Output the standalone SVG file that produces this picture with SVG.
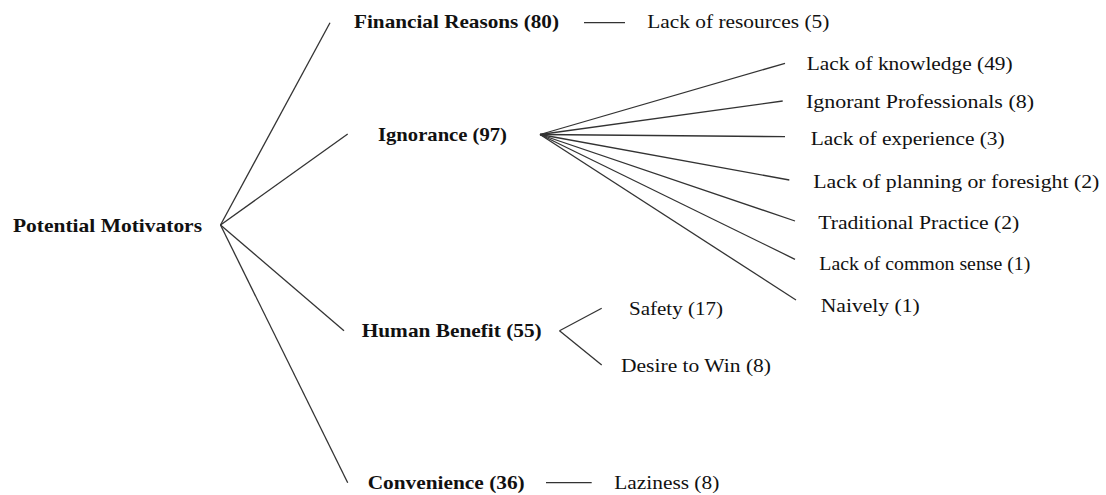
<svg xmlns="http://www.w3.org/2000/svg" width="1106" height="495" viewBox="0 0 1106 495">
<style>
text{font-family:"Liberation Serif","Times New Roman",serif;font-size:19px;fill:#111;}
.b{font-weight:bold;}
#connectors line{stroke:#333;stroke-width:1.3;}
</style>
<rect width="1106" height="495" fill="#fff"/>
<g id="connectors">
<line x1="220.5" y1="225" x2="330" y2="22.7"/>
<line x1="220.5" y1="225" x2="347.7" y2="134"/>
<line x1="220.5" y1="225" x2="344" y2="330.7"/>
<line x1="220.5" y1="225" x2="347.7" y2="482.7"/>
<line x1="584" y1="22.7" x2="625" y2="22.7"/>
<line x1="540" y1="134.5" x2="785" y2="63.3"/>
<line x1="540" y1="134.5" x2="782.7" y2="101"/>
<line x1="540" y1="134.5" x2="785" y2="136.7"/>
<line x1="540" y1="134.5" x2="789.3" y2="180"/>
<line x1="540" y1="134.5" x2="795" y2="221"/>
<line x1="540" y1="134.5" x2="795" y2="259.3"/>
<line x1="540" y1="134.5" x2="796" y2="300"/>
<line x1="559.5" y1="330.7" x2="601.7" y2="308.3"/>
<line x1="559.5" y1="330.7" x2="601.7" y2="365"/>
<line x1="546" y1="482.7" x2="591.7" y2="482.7"/>
</g>
<g id="root"><text class="b" x="13" y="231.7" textLength="189" lengthAdjust="spacingAndGlyphs">Potential Motivators</text></g>
<g id="financial"><text class="b" x="354" y="28" textLength="205" lengthAdjust="spacingAndGlyphs">Financial Reasons (80)</text></g>
<g id="resources"><text x="647.3" y="28" textLength="182" lengthAdjust="spacingAndGlyphs">Lack of resources (5)</text></g>
<g id="ignorance"><text class="b" x="378" y="141" textLength="129" lengthAdjust="spacingAndGlyphs">Ignorance (97)</text></g>
<g id="knowledge"><text x="806.7" y="69.5" textLength="206" lengthAdjust="spacingAndGlyphs">Lack of knowledge (49)</text></g>
<g id="professionals"><text x="806" y="107.5" textLength="228" lengthAdjust="spacingAndGlyphs">Ignorant Professionals (8)</text></g>
<g id="experience"><text x="810.7" y="145.3" textLength="194" lengthAdjust="spacingAndGlyphs">Lack of experience (3)</text></g>
<g id="planning"><text x="813.3" y="188" textLength="286" lengthAdjust="spacingAndGlyphs">Lack of planning or foresight (2)</text></g>
<g id="traditional"><text x="818.3" y="228.6" textLength="201" lengthAdjust="spacingAndGlyphs">Traditional Practice (2)</text></g>
<g id="commonsense"><text x="819.3" y="270.3" textLength="211" lengthAdjust="spacingAndGlyphs">Lack of common sense (1)</text></g>
<g id="naively"><text x="820.7" y="312" textLength="99" lengthAdjust="spacingAndGlyphs">Naively (1)</text></g>
<g id="human"><text class="b" x="361.7" y="337" textLength="180" lengthAdjust="spacingAndGlyphs">Human Benefit (55)</text></g>
<g id="safety"><text x="629" y="315.3" textLength="94" lengthAdjust="spacingAndGlyphs">Safety (17)</text></g>
<g id="desire"><text x="621" y="372" textLength="150" lengthAdjust="spacingAndGlyphs">Desire to Win (8)</text></g>
<g id="convenience"><text class="b" x="367.7" y="488.5" textLength="157" lengthAdjust="spacingAndGlyphs">Convenience (36)</text></g>
<g id="laziness"><text x="614.3" y="488.5" textLength="105" lengthAdjust="spacingAndGlyphs">Laziness (8)</text></g>
</svg>
